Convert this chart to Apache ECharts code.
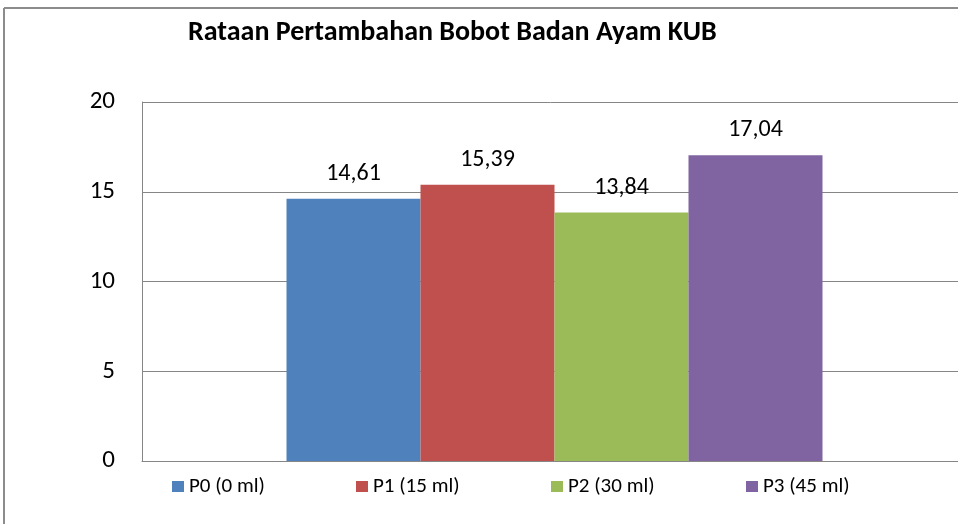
<!DOCTYPE html>
<html>
<head>
<meta charset="utf-8">
<script src="https://cdn.jsdelivr.net/npm/echarts@6/dist/echarts.min.js"></script>
<style>html,body{margin:0;padding:0;background:#fff}#c{width:958px;height:524px}</style>
</head>
<body>
<div id="c"></div>
<script>
const titleText = 'Rataan Pertambahan Bobot Badan Ayam KUB';
const categories = [''];
const seriesNames = ['P0 (0 ml)', 'P1 (15 ml)', 'P2 (30 ml)', 'P3 (45 ml)'];
const seriesValues = [14.61, 15.39, 13.84, 17.04];
const seriesColors = ['#4f81bd', '#c0504d', '#9bbb59', '#8064a2'];
const yTicks = [0, 5, 10, 15, 20];

const FONT = 'Carlito, Lato, sans-serif';
const chart = echarts.init(document.getElementById('c'), null, {renderer: 'canvas'});
const legendLefts = [172, 356, 551, 746];

chart.setOption({
  backgroundColor: '#fff',
  animation: false,
  title: {
    text: titleText, left: 183, top: 14,
    textStyle: {fontFamily: FONT, fontWeight: 'bold', fontSize: 28, color: '#000'}
  },
  legend: seriesNames.map((n, i) => ({
    data: [n], left: legendLefts[i], top: 476, padding: 0,
    itemWidth: 12, itemHeight: 11, itemGap: 5, icon: 'rect',
    textStyle: {fontFamily: FONT, fontSize: 21, color: '#000', padding: [0, 0, 0, 0]}
  })),
  grid: {left: 142, top: 102, bottom: 63, width: 825, containLabel: false, outerBoundsMode: 'none'},
  xAxis: {
    type: 'category', data: categories,
    axisLine: {show: true, lineStyle: {color: '#868686', width: 1}},
    axisTick: {show: false}, axisLabel: {show: false}
  },
  yAxis: {
    type: 'value', min: yTicks[0], max: yTicks[yTicks.length - 1], interval: 5,
    axisLine: {show: true, lineStyle: {color: '#868686', width: 1}},
    axisTick: {show: false},
    axisLabel: {fontFamily: FONT, fontSize: 25, color: '#000', margin: 27},
    splitLine: {lineStyle: {color: '#868686', width: 1}}
  },
  series: seriesNames.map((n, i) => ({
    name: n, type: 'bar', data: [seriesValues[i]],
    barWidth: 134, barGap: '0%',
    itemStyle: {color: seriesColors[i]},
    label: {
      show: true, position: 'top', distance: 13,
      fontFamily: FONT, fontSize: 24, color: '#000',
      formatter: p => p.value.toFixed(2).replace('.', ',')
    }
  })),
  graphic: [
    {type: 'line', shape: {x1: 4, y1: 8, x2: 960, y2: 8}, style: {stroke: '#8c8c8c', lineWidth: 2}},
    {type: 'line', shape: {x1: 4, y1: 8, x2: 4, y2: 530}, style: {stroke: '#8c8c8c', lineWidth: 2}}
  ]
});
</script>
</body>
</html>
